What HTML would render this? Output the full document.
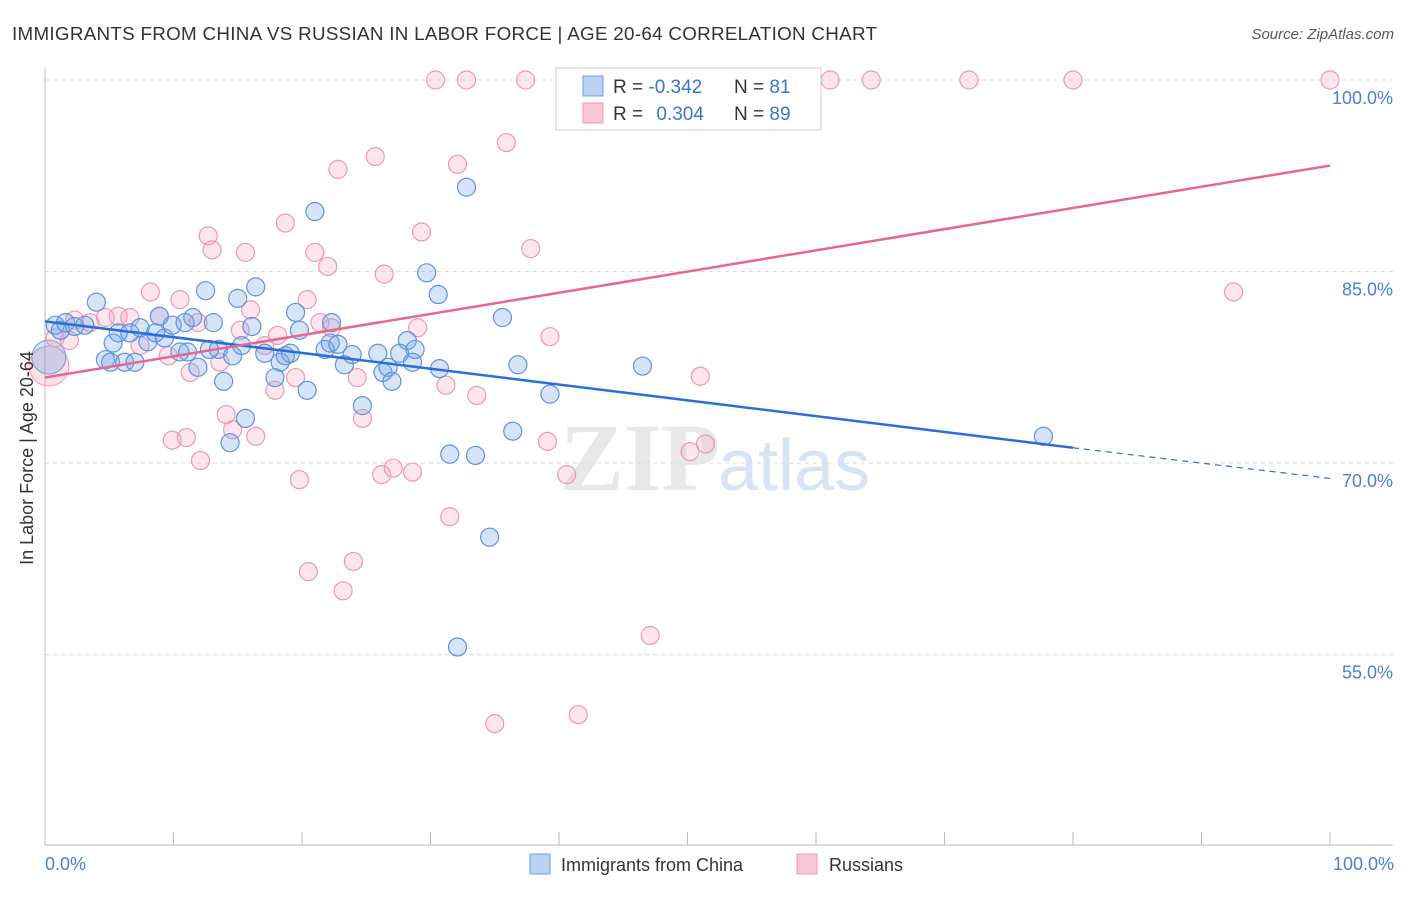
<!DOCTYPE html>
<html><head><meta charset="utf-8"><style>
body{margin:0;background:#fff;font-family:"Liberation Sans",sans-serif}
</style></head><body>
<svg id="chart" width="1406" height="892" xmlns="http://www.w3.org/2000/svg" font-family="Liberation Sans, sans-serif">
<text x="12" y="40" font-size="18.8" letter-spacing="0.3" fill="#333">IMMIGRANTS FROM CHINA VS RUSSIAN IN LABOR FORCE | AGE 20-64 CORRELATION CHART</text>
<text x="1394" y="39" font-size="15" fill="#555" font-style="italic" text-anchor="end">Source: ZipAtlas.com</text>
<text x="720" y="490" font-size="96" font-weight="bold" fill="#e8e8e8" text-anchor="end" font-family="Liberation Serif, serif">ZIP</text>
<text x="718" y="490" font-size="72" fill="#d6e4f5">atlas</text>
<g id="grid"></g><g id="axes"></g><g id="marks"></g><g id="lines"></g>
<text x="35" y="460" font-size="18" fill="#333" text-anchor="middle" transform="rotate(-90 33 460)">In Labor Force | Age 20-64</text>
<text x="45" y="870" font-size="18" fill="#4a7fd4">0.0%</text>
<text x="1394" y="870" font-size="18" fill="#4a7fd4" text-anchor="end">100.0%</text>
<g>
<rect x="556" y="68" width="265" height="62" fill="#fff" stroke="#ccc"/>
<rect x="583" y="76" width="20" height="20" fill="#b9d1f2" stroke="#6f9de0"/>
<rect x="583" y="103" width="20" height="20" fill="#f8c6d5" stroke="#ec9ab4"/>
<text x="613" y="93" font-size="19" fill="#333">R = <tspan fill="#3b73d4">-0.342</tspan></text>
<text x="734" y="93" font-size="19" fill="#333">N = <tspan fill="#3b73d4">81</tspan></text>
<text x="613" y="120" font-size="19" fill="#333">R = <tspan fill="#3b73d4" dx="8">0.304</tspan></text>
<text x="734" y="120" font-size="19" fill="#333">N = <tspan fill="#3b73d4">89</tspan></text>
</g>
<g><rect x="530" y="854" width="20" height="20" fill="#b9d1f2" stroke="#6f9de0"/><text x="561" y="871" font-size="18" fill="#333">Immigrants from China</text></g>
<g><rect x="797" y="854" width="20" height="20" fill="#f8c6d5" stroke="#ec9ab4"/><text x="829" y="871" font-size="18" fill="#333">Russians</text></g>
</svg>
<script>
const yTicks=[100,85,70,55];
const xTickVals=[0,10,20,30,40,50,60,70,80,90,100];
const chinaX=[0.8,1.2,1.6,2.3,3.1,4.0,4.7,5.1,5.3,5.7,6.2,6.6,7.0,7.4,8.0,8.6,8.9,9.3,9.9,10.5,10.9,11.1,11.5,11.9,12.5,12.8,13.1,13.5,13.9,14.4,14.6,15.0,15.3,15.6,16.1,16.4,17.1,17.9,18.3,18.7,19.1,19.5,19.8,20.4,21.0,21.8,22.2,22.3,22.8,23.3,23.9,24.7,25.9,26.3,26.7,27.0,27.6,28.2,28.6,28.8,29.7,30.6,30.7,31.5,32.1,32.8,33.5,34.6,35.6,36.4,36.8,39.3,46.5,77.7];
const chinaY=[80.8,80.4,81.0,80.7,80.8,82.6,78.1,77.9,79.4,80.2,77.9,80.2,77.9,80.6,79.5,80.2,81.5,79.8,80.8,78.7,81.0,78.7,81.4,77.5,83.5,78.9,81.0,78.9,76.4,71.6,78.4,82.9,79.2,73.5,80.7,83.8,78.6,76.7,77.9,78.4,78.6,81.8,80.4,75.7,89.7,78.9,79.4,81.0,79.3,77.7,78.5,74.5,78.6,77.1,77.5,76.4,78.6,79.6,77.9,78.9,84.9,83.2,77.4,70.7,55.6,91.6,70.6,64.2,81.4,72.5,77.7,75.4,77.6,72.1];
const russX=[30.4,32.8,37.4,52.5,59.4,61.1,64.3,71.9,80.0,100,35.9,25.7,32.1,22.8,18.7,29.3,12.7,13.0,15.6,37.8,21.0,22.0,26.4,8.2,10.5,16.0,92.5,8.9,2.3,3.5,4.7,5.7,6.6,11.9,15.2,18.1,20.4,21.4,22.3,29.0,39.3,0.8,1.9,7.4,9.6,11.3,13.6,17.1,17.9,19.5,24.3,31.2,33.6,51.0,24.7,14.1,14.6,16.4,9.9,11.0,12.1,39.1,50.2,51.4,27.1,26.2,28.6,19.8,40.6,31.5,20.5,24.0,23.2,47.1,35.0,41.5];
const russY=[100,100,100,100,100,100,100,100,100,100,95.1,94.0,93.4,93.0,88.8,88.1,87.8,86.7,86.5,86.8,86.5,85.4,84.8,83.4,82.8,82.0,83.4,81.5,81.2,81.0,81.4,81.5,81.4,81.0,80.4,80.0,82.8,81.0,80.6,80.6,79.9,79.8,79.6,79.2,78.4,77.1,77.9,79.2,75.7,76.7,76.7,76.1,75.3,76.8,73.5,73.8,72.6,72.1,71.8,72.0,70.2,71.7,70.9,71.5,69.6,69.1,69.3,68.7,69.1,65.8,61.5,62.3,60.0,56.5,49.6,50.3];
const chinaTrend=[[0,81.1],[80,71.2],[100,68.8]];
const russTrend=[[0,76.7],[100,93.3]];
const NS="http://www.w3.org/2000/svg";
const sx=v=>45+v*12.85, sy=v=>80+(100-v)*12.77;
function mk(tag,attrs,parent){const e=document.createElementNS(NS,tag);for(const k in attrs)e.setAttribute(k,attrs[k]);document.getElementById(parent).appendChild(e);return e;}
yTicks.forEach(t=>{
 const g=mk('line',{x1:45,x2:1393,y1:sy(t),y2:sy(t),stroke:'#ddd','stroke-dasharray':'4,4'},'grid');
 
 
 const l=mk('text',{x:1393,y:sy(t)+24,'font-size':18,fill:'#4a7fd4','text-anchor':'end'},'grid');
 l.textContent=t.toFixed(1)+'%';
 
 
});
const ax=mk('line',{x1:45,x2:1393,y1:845,y2:845,stroke:'#bbb'},'axes');


const ay=mk('line',{x1:45,x2:45,y1:68,y2:845,stroke:'#bbb'},'axes');


xTickVals.forEach(t=>{const e=mk('line',{x1:sx(t),x2:sx(t),y1:832,y2:845,stroke:'#bbb'},'axes');
 
 });
function big(x,y,r,f,s,name){const c=mk('circle',{cx:sx(x),cy:sy(y),r:r,fill:f,stroke:s},'marks');
 
 }
big(0.3,77.6,20,'rgba(240,150,180,0.3)','#ec9ab4');
big(0.3,78.3,17,'rgba(110,155,225,0.3)','#6f9de0');
russX.forEach((x,i)=>{const c=mk('circle',{cx:sx(x),cy:sy(russY[i]),r:9,fill:'rgba(245,160,185,0.28)',stroke:'#eb9ab3','stroke-width':1.2},'marks');
 
 });
chinaX.forEach((x,i)=>{const c=mk('circle',{cx:sx(x),cy:sy(chinaY[i]),r:9,fill:'rgba(120,165,230,0.3)',stroke:'#5f93de','stroke-width':1.2},'marks');
 
 });
const b1=mk('line',{x1:sx(chinaTrend[0][0]),y1:sy(chinaTrend[0][1]),x2:sx(chinaTrend[1][0]),y2:sy(chinaTrend[1][1]),stroke:'#2a6ed8','stroke-width':2.5},'lines');


const b2=mk('line',{x1:sx(chinaTrend[1][0]),y1:sy(chinaTrend[1][1]),x2:sx(chinaTrend[2][0]),y2:sy(chinaTrend[2][1]),stroke:'#2a6ed8','stroke-width':1.2,'stroke-dasharray':'6,5'},'lines');


const p1=mk('line',{x1:sx(russTrend[0][0]),y1:sy(russTrend[0][1]),x2:sx(russTrend[1][0]),y2:sy(russTrend[1][1]),stroke:'#e8668f','stroke-width':2.5},'lines');


</script>
</body></html>
